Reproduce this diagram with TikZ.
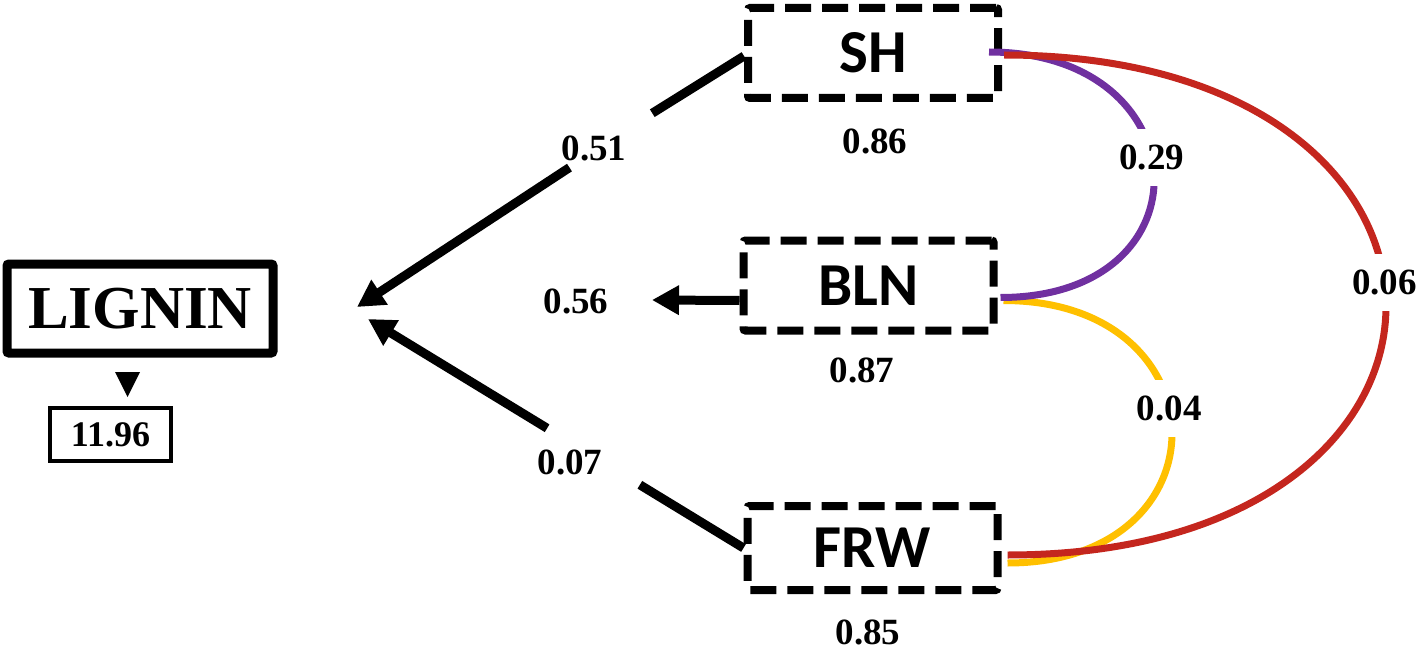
\documentclass[tikz,border=0pt]{standalone}
\usepackage{fontspec}
\setmainfont{Liberation Serif}
\newfontfamily\calib{Carlito}
\usetikzlibrary{arrows.meta,calc}
\definecolor{lpurple}{RGB}{112,48,160}
\definecolor{lred}{RGB}{196,38,30}
\definecolor{lyellow}{RGB}{255,192,0}
\tikzset{
  lbl/.style={font=\fontsize{37}{40}\selectfont\bfseries, text=black, inner sep=0pt},
  var/.style={draw, line width=8pt, dash pattern=on 26pt off 11pt, rounded corners=2pt,
    minimum width=250pt, minimum height=90pt, inner sep=0pt, font=\calib\fontsize{61}{64}\selectfont\bfseries},
  arr/.style={line width=9pt},
  tip/.style={-{Triangle[length=27pt,width=28pt]}},
  cor/.style={line width=7pt},
  cut/.style={fill=white, inner xsep=4pt, inner ysep=16pt},
}
\begin{document}
\begin{tikzpicture}[x=1pt,y=-1pt]
\useasboundingbox (0,0) rectangle (1416,658);
\node[draw, line width=9pt, rounded corners=2pt, minimum width=266pt, minimum height=89pt, inner sep=0pt, font=\fontsize{61}{64}\selectfont\bfseries] (1) at (140,308.5) {LIGNIN};
\node[draw, line width=4.5pt, minimum width=121pt, minimum height=53pt, inner sep=0pt, font=\fontsize{36}{40}\selectfont\bfseries] (5) at (110.5,434.5) {11.96};
\fill (115,372) -- (140,372) -- (127.5,397) -- cycle;

\node[var] (2) at (873,53) {SH};
\node[var] (3) at (868.5,285.5) {BLN};
\node[var, minimum height=84pt] (4) at (872.5,548) {FRW};

\node[lbl] (r2) at (875,141) {0.86};
\node[lbl] (r3) at (862,370) {0.87};
\node[lbl] (r4) at (868,632) {0.85};

\coordinate (t1) at (357,307);
\coordinate (t2) at (368,319);
\coordinate (t3) at (652,300);

\node[lbl] (e2) at (594,148) {0.51};
\node[lbl] (e3) at (576,301) {0.56};
\node[lbl] (e4) at (570,462) {0.07};

\path[draw,arr] ([yshift=-3pt]2.west) -- ($(2.west)!0.237!(t1)$);
\path[draw,arr,tip] ($(2.west)!0.451!(t1)$) -- (t1);
\path[draw,arr,tip] ([yshift=-15pt]3.west) -- (t3);
\path[draw,arr] (4.west) -- ($(4.west)!0.276!(t2)$);
\path[draw,arr,tip] ($(4.west)!0.523!(t2)$) -- (t2);

\path[draw,cor,lyellow] ([xshift=6pt,yshift=-15pt]3.east) to[out=0,in=0,looseness=2.16] node[lbl,cut,pos=0.44] (c34) {0.04} ([xshift=6pt,yshift=-15pt]4.east);
\path[draw,cor,lpurple] ([xshift=-13pt,yshift=1pt]2.east) to[out=0,in=0,looseness=2.21] node[lbl,cut,pos=0.452] (c23) {0.29} ([xshift=3pt,yshift=-12pt]3.east);
\path[draw,cor,lred] ([xshift=2pt,yshift=-2pt]2.east) to[out=0,in=0,looseness=2.59] node[lbl,cut,pos=0.47] (c24) {0.06} ([xshift=6pt,yshift=-7pt]4.east);
\end{tikzpicture}
\end{document}
